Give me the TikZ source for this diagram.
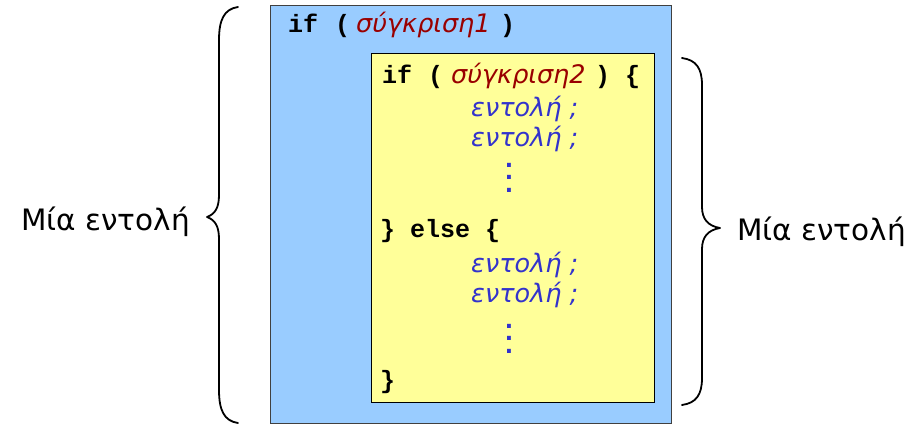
\documentclass[tikz,border=0pt]{standalone}
\usepackage{fontspec}
\setmainfont{DejaVu Sans}
\newfontfamily\codefont{Liberation Mono}
\newfontfamily\grfont{DejaVu Sans}
\definecolor{boxblue}{HTML}{99CCFF}
\definecolor{boxyellow}{HTML}{FFFF99}
\definecolor{cmpred}{HTML}{990000}
\definecolor{stmblue}{HTML}{3333CC}
\definecolor{edgegray}{HTML}{404040}
\tikzset{
  outerbox/.style={draw=edgegray, line width=1pt, fill=boxblue, inner sep=0pt, anchor=north west},
  innerbox/.style={draw=black, line width=1pt, fill=boxyellow, inner sep=0pt, anchor=north west},
  kw/.style={anchor=base west, inner sep=0pt, font=\codefont\bfseries\fontsize{25}{30}\selectfont},
  cmp/.style={anchor=base west, inner sep=0pt, text=cmpred, font=\grfont\itshape\fontsize{25.5}{30}\selectfont},
  stm/.style={anchor=base west, inner sep=0pt, text=stmblue, font=\grfont\itshape\fontsize{25.5}{30}\selectfont},
  vdots/.style={anchor=north, inner sep=0pt, text=stmblue, align=center, font=\grfont\bfseries\fontsize{22}{12.5}\selectfont},
  lbl/.style={anchor=base west, inner sep=0pt, font=\fontsize{29.5}{34}\selectfont},
  brace/.style={line width=1.8pt, line cap=round, line join=round}
}
\begin{document}
\begin{tikzpicture}[x=1pt,y=-1pt]
\useasboundingbox (0,0) rectangle (924,425);
\fill[white] (0,0) rectangle (924,425);
% boxes
\node[outerbox, minimum width=401pt, minimum height=418pt] (outer) at (270,5) {};
\node[innerbox, minimum width=283pt, minimum height=349pt] (inner) at (371,53) {};
% outer if
\node[kw] (if1) at (288,33) {if};
\node[kw] (lp1) at (335,33) {(};
\node[cmp] (c1) at (356,33) {σύγκριση1};
\node[kw] (rp1) at (500,33) {)};
% inner if
\node[kw] (if2) at (382,84) {if};
\node[kw] (lp2) at (428,84) {(};
\node[cmp] (c2) at (451,84) {σύγκριση2};
\node[kw] (rp2) at (595,84) {)};
\node[kw] (lb2) at (625,84) {\{};
\node[stm] (s1) at (471,117) {εντολή ;};
\node[stm] (s2) at (471,147) {εντολή ;};
\node[vdots] (d1) at (509,163) {.\\.\\.};
\node[kw] (els) at (380,237) {\} else \{};
\node[stm] (s3) at (471,272) {εντολή ;};
\node[stm] (s4) at (471,302) {εντολή ;};
\node[vdots] (d2) at (509,324) {.\\.\\.};
\node[kw] (rb) at (380,388) {\}};
% labels
\node[lbl] (lblL) at (21,230) {Μία εντολή};
\node[lbl] (lblR) at (737,240) {Μία εντολή};
% braces
\coordinate (lt) at (238,7);
\coordinate (ltip) at (207,217);
\coordinate (lb) at (238,423);
\draw[brace] (lt) .. controls (224,9) and (219,20) .. (219,40) -- (219,195)
  .. controls (219,208) and (215,214) .. (ltip)
  .. controls (215,220) and (219,226) .. (219,239) -- (219,390)
  .. controls (219,410) and (224,421) .. (lb);
\coordinate (rt) at (682,58);
\coordinate (rtip) at (720,228);
\coordinate (rbt) at (682,405);
\draw[brace] (rt) .. controls (696,60) and (702,68) .. (702,85) -- (702,207)
  .. controls (702,219) and (708,226) .. (rtip)
  .. controls (708,230) and (702,237) .. (702,249) -- (702,378)
  .. controls (702,395) and (696,403) .. (rbt);
\end{tikzpicture}
\end{document}
